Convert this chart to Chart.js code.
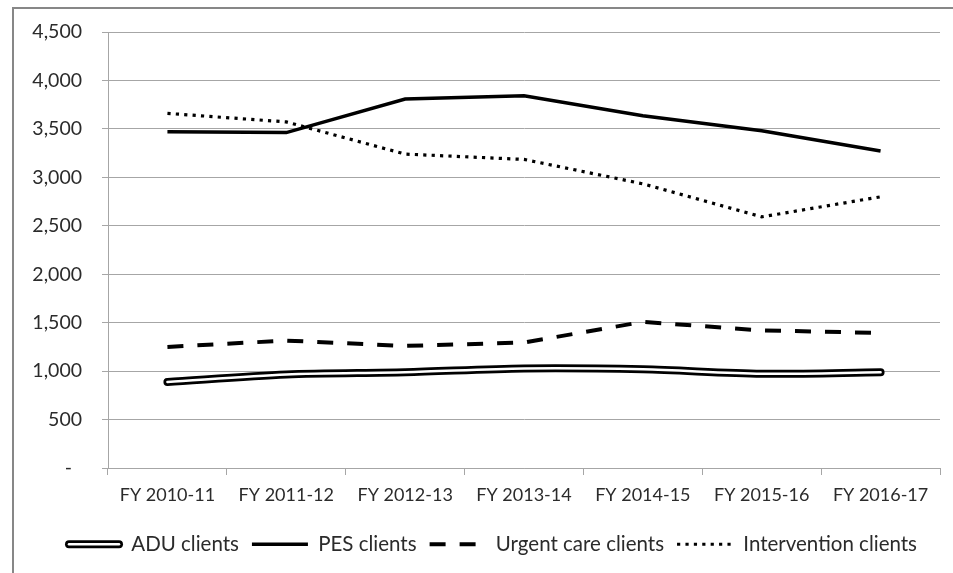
<!DOCTYPE html>
<html>
<head>
<meta charset="utf-8">
<script src="https://cdn.jsdelivr.net/npm/chart.js@4.4.1/dist/chart.umd.min.js"></script>
<style>
  html, body { margin: 0; padding: 0; background: #ffffff; }
  #wrap { width: 953px; height: 573px; position: relative; }
</style>
</head>
<body>
<div id="wrap"><canvas id="chart" width="953" height="573"></canvas></div>
<script>
// Client counts by fiscal year
const categories = ['FY 2010-11', 'FY 2011-12', 'FY 2012-13', 'FY 2013-14', 'FY 2014-15', 'FY 2015-16', 'FY 2016-17'];
const aduClients = [888, 966, 988, 1027, 1018, 973, 988];
const pesClients = [3470, 3462, 3808, 3842, 3636, 3481, 3271];
const urgentCareClients = [1250, 1315, 1260, 1295, 1508, 1420, 1394];
const interventionClients = [3660, 3572, 3240, 3185, 2933, 2592, 2799];
const yTicks = [0, 500, 1000, 1500, 2000, 2500, 3000, 3500, 4000, 4500];

const TEXT = '#2b2b2b';
const GRID = '#a6a6a6';
const FONT = 'Lato';
const SAMPLE_W = 56;
const LEGEND_SHIFT = 15;

// Frame around the whole chart object (only top and left edges fall inside the canvas)
const framePlugin = {
  id: 'frame',
  beforeDraw(chart) {
    const ctx = chart.ctx;
    ctx.save();
    ctx.fillStyle = '#ffffff';
    ctx.fillRect(0, 0, chart.width, chart.height);
    ctx.strokeStyle = '#878787';
    ctx.lineWidth = 2;
    ctx.strokeRect(13, 8, 1200, 1200);
    ctx.restore();
  }
};

// Shift the legend row and draw the double-line sample for ADU clients
const legendPlugin = {
  id: 'legendTweak',
  afterUpdate(chart) {
    const lg = chart.legend;
    if (!lg) return;
    lg.left += LEGEND_SHIFT;
    lg.right += LEGEND_SHIFT;
    lg.legendHitBoxes.forEach(h => { h.left += LEGEND_SHIFT; });
  },
  afterDraw(chart) {
    const lg = chart.legend;
    if (!lg || !lg.legendHitBoxes.length) return;
    const box = lg.legendHitBoxes[0];
    const fs = lg.options.labels.font.size;
    const cy = box.top + fs / 2;
    const ctx = chart.ctx;
    ctx.save();
    ctx.lineCap = 'round';
    [['#000000', 8], ['#ffffff', 2.5]].forEach(([c, w]) => {
      ctx.strokeStyle = c;
      ctx.lineWidth = w;
      ctx.beginPath();
      ctx.moveTo(box.left + 4, cy);
      ctx.lineTo(box.left + SAMPLE_W - 2, cy);
      ctx.stroke();
    });
    ctx.restore();
  }
};

new Chart(document.getElementById('chart'), {
  type: 'line',
  data: {
    labels: categories,
    datasets: [
      { // white core of the double ADU line
        label: 'ADU clients',
        data: aduClients,
        borderColor: '#ffffff',
        borderWidth: 2.5,
        borderCapStyle: 'round',
        tension: 0.3,
        pointRadius: 0
      },
      {
        label: 'ADU clients',
        data: aduClients,
        borderColor: '#000000',
        borderWidth: 8,
        borderCapStyle: 'round',
        tension: 0.3,
        pointRadius: 0
      },
      {
        label: 'PES clients',
        data: pesClients,
        borderColor: '#000000',
        borderWidth: 3.5,
        tension: 0,
        pointRadius: 0
      },
      {
        label: 'Urgent care clients',
        data: urgentCareClients,
        borderColor: '#000000',
        borderWidth: 4,
        borderDash: [16, 14],
        tension: 0,
        pointRadius: 0
      },
      {
        label: 'Intervention clients',
        data: interventionClients,
        borderColor: '#000000',
        borderWidth: 3.2,
        borderDash: [3.2, 5.2],
        tension: 0,
        pointRadius: 0
      }
    ]
  },
  options: {
    responsive: false,
    animation: false,
    devicePixelRatio: 1,
    layout: { padding: { left: 12, right: 13, top: 32, bottom: 8.5 } },
    plugins: {
      tooltip: { enabled: false },
      legend: {
        position: 'bottom',
        labels: {
          usePointStyle: true,
          pointStyle: 'line',
          pointStyleWidth: SAMPLE_W,
          boxHeight: 20.5,
          padding: 13,
          color: TEXT,
          font: { family: FONT, size: 20.5 },
          generateLabels(chart) {
            return chart.data.datasets.map((ds, i) => ({
              text: ds.label,
              datasetIndex: i,
              fillStyle: ds.borderColor,
              strokeStyle: ds.borderColor,
              // the ADU sample is painted by the legendTweak plugin
              lineWidth: i === 1 ? 0 : ds.borderWidth,
              lineDash: ds.borderDash || [],
              lineCap: ds.borderCapStyle || 'butt',
              pointStyle: 'line',
              hidden: false,
              fontColor: TEXT
            }));
          },
          filter: (item) => item.datasetIndex !== 0
        }
      }
    },
    scales: {
      x: {
        offset: true,
        grid: {
          offset: true,
          drawOnChartArea: false,
          drawTicks: true,
          tickLength: 7,
          color: GRID,
          lineWidth: 1
        },
        border: { display: true, color: GRID, width: 1 },
        ticks: {
          color: TEXT,
          font: { family: FONT, size: 18 },
          padding: 9,
          maxRotation: 0,
          autoSkip: false
        },
        afterFit(scale) { scale.height = 53; }
      },
      y: {
        min: 0,
        max: 4500,
        afterBuildTicks(scale) { scale.ticks = yTicks.map(v => ({ value: v })); },
        grid: {
          color: GRID,
          lineWidth: 1,
          drawTicks: true,
          tickLength: 6
        },
        border: { display: true, color: GRID, width: 1 },
        ticks: {
          color: TEXT,
          font: { family: FONT, size: 19.5 },
          padding: 20,
          callback: (v) => v === 0 ? '-  ' : v.toLocaleString('en-US')
        },
        afterFit(scale) { scale.width = 96; }
      }
    }
  },
  plugins: [framePlugin, legendPlugin]
});
</script>
</body>
</html>
